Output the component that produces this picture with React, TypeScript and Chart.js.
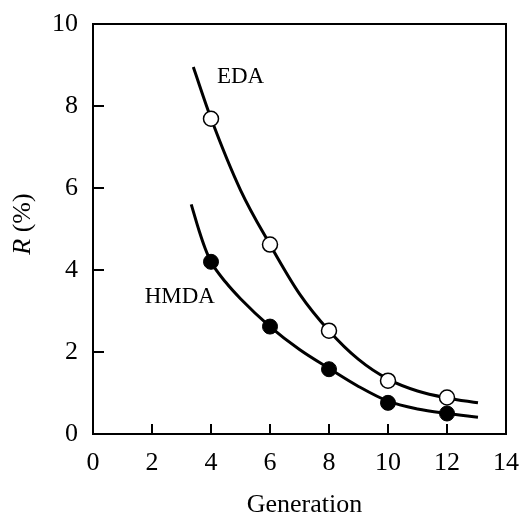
import React, { useEffect, useRef } from 'react';
import { Chart, registerables } from 'chart.js';

Chart.register(...registerables);

// Measured data points (Generation vs R %)
const generations = [4, 6, 8, 10, 12];
const edaR = [7.69, 4.62, 2.52, 1.3, 0.89];
const hmdaR = [4.2, 2.62, 1.58, 0.76, 0.5];

// Fitted curves
const edaCurveX = [3.4, 4, 5, 6, 7, 8, 9, 10, 11, 12, 13.05];
const edaCurveY = [8.95, 7.7, 5.95, 4.62, 3.42, 2.52, 1.82, 1.34, 1.05, 0.88, 0.76];
const hmdaCurveX = [3.33, 3.6, 3.8, 4, 4.5, 5, 6, 7, 8, 9, 10, 11, 12, 13.05];
const hmdaCurveY = [5.6, 4.95, 4.53, 4.2, 3.7, 3.3, 2.62, 2.06, 1.6, 1.16, 0.8, 0.61, 0.5, 0.41];

// Axis ranges / ticks
const xMin = 0, xMax = 14, xStep = 2;
const yMin = 0, yMax = 10, yStep = 2;

// Series annotation labels (text + anchor in data units)
const seriesNames = ['EDA', 'HMDA'];
const seriesNameX = [4.2, 1.75];
const seriesNameY = [8.55, 3.2];

const xTitle = 'Generation';

const SERIF = '"Liberation Serif", "Times New Roman", serif';

export default function App() {
  const ref = useRef<HTMLCanvasElement | null>(null);

  useEffect(() => {
    document.body.style.margin = '0';
    const canvas = ref.current;
    if (!canvas) return;

    const zeroPad = (s: any) => {
      s.paddingTop = 0;
      s.paddingBottom = 0;
      s.paddingLeft = 0;
      s.paddingRight = 0;
    };

    const framePlugin = {
      id: 'frame',
      afterDraw(chart: any) {
        const { ctx, chartArea: a, scales } = chart;
        const xs = scales.x, ys = scales.y;
        ctx.save();
        ctx.strokeStyle = '#000';
        ctx.lineWidth = 2;
        ctx.strokeRect(a.left, a.top, a.right - a.left, a.bottom - a.top);
        ctx.beginPath();
        xs.ticks.forEach((t: any) => {
          if (t.value > xs.min && t.value < xs.max) {
            const px = Math.round(xs.getPixelForValue(t.value));
            ctx.moveTo(px, a.bottom);
            ctx.lineTo(px, a.bottom - 10);
          }
        });
        ys.ticks.forEach((t: any) => {
          if (t.value > ys.min && t.value < ys.max) {
            const py = Math.round(ys.getPixelForValue(t.value));
            ctx.moveTo(a.left, py);
            ctx.lineTo(a.left + 11, py);
          }
        });
        ctx.stroke();

        // series labels
        ctx.fillStyle = '#000';
        ctx.font = `23px ${SERIF}`;
        ctx.textAlign = 'left';
        ctx.textBaseline = 'alphabetic';
        seriesNames.forEach((n, i) => {
          ctx.fillText(n, xs.getPixelForValue(seriesNameX[i]), ys.getPixelForValue(seriesNameY[i]));
        });

        // x title
        ctx.font = `26px ${SERIF}`;
        ctx.textAlign = 'center';
        ctx.fillText(xTitle, (a.left + a.right) / 2 + 5, 512);

        // y title: italic R then " (%)"
        ctx.translate(30, (a.top + a.bottom) / 2 - 5);
        ctx.rotate(-Math.PI / 2);
        ctx.textAlign = 'left';
        const part1 = 'R';
        const part2 = ' (%)';
        ctx.font = `italic 26px ${SERIF}`;
        const w1 = ctx.measureText(part1).width;
        ctx.font = `26px ${SERIF}`;
        const w2 = ctx.measureText(part2).width;
        const start = -(w1 + w2) / 2;
        ctx.font = `italic 26px ${SERIF}`;
        ctx.fillText(part1, start, 0);
        ctx.font = `26px ${SERIF}`;
        ctx.fillText(part2, start + w1, 0);
        ctx.restore();
      },
    };

    const chart = new Chart(canvas, {
      type: 'scatter',
      data: {
        datasets: [
          {
            label: 'EDA',
            data: generations.map((g, i) => ({ x: g, y: edaR[i] })),
            pointRadius: 7.5,
            pointBackgroundColor: '#fff',
            pointBorderColor: '#000',
            pointBorderWidth: 1.5,
            showLine: false,
          },
          {
            label: 'HMDA',
            data: generations.map((g, i) => ({ x: g, y: hmdaR[i] })),
            pointRadius: 7.5,
            pointBackgroundColor: '#000',
            pointBorderColor: '#000',
            pointBorderWidth: 1,
            showLine: false,
          },
          {
            label: 'EDA fit',
            data: edaCurveX.map((x, i) => ({ x, y: edaCurveY[i] })),
            showLine: true,
            pointRadius: 0,
            borderColor: '#000',
            borderWidth: 3,
            cubicInterpolationMode: 'monotone',
          },
          {
            label: 'HMDA fit',
            data: hmdaCurveX.map((x, i) => ({ x, y: hmdaCurveY[i] })),
            showLine: true,
            pointRadius: 0,
            borderColor: '#000',
            borderWidth: 3,
            cubicInterpolationMode: 'monotone',
          },
        ],
      },
      options: {
        responsive: false,
        animation: false,
        devicePixelRatio: 1,
        layout: { padding: { left: 0, top: 24, right: 13, bottom: 0 } },
        plugins: { legend: { display: false }, tooltip: { enabled: false } },
        scales: {
          x: {
            type: 'linear',
            min: xMin,
            max: xMax,
            afterFit: (s: any) => { s.height = 80; zeroPad(s); },
            ticks: {
              stepSize: xStep,
              color: '#000',
              padding: 14,
              maxRotation: 0,
              font: { family: SERIF, size: 26 },
            },
            grid: { display: false, drawTicks: false },
            border: { display: false },
          },
          y: {
            type: 'linear',
            min: yMin,
            max: yMax,
            afterFit: (s: any) => { s.width = 93; zeroPad(s); },
            ticks: {
              stepSize: yStep,
              color: '#000',
              padding: 15,
              font: { family: SERIF, size: 26 },
            },
            grid: { display: false, drawTicks: false },
            border: { display: false },
          },
        },
      },
      plugins: [framePlugin],
    } as any);

    return () => chart.destroy();
  }, []);

  return (
    <div style={{ width: 519, height: 514 }}>
      <canvas ref={ref} width={519} height={514} style={{ display: 'block' }} />
    </div>
  );
}
